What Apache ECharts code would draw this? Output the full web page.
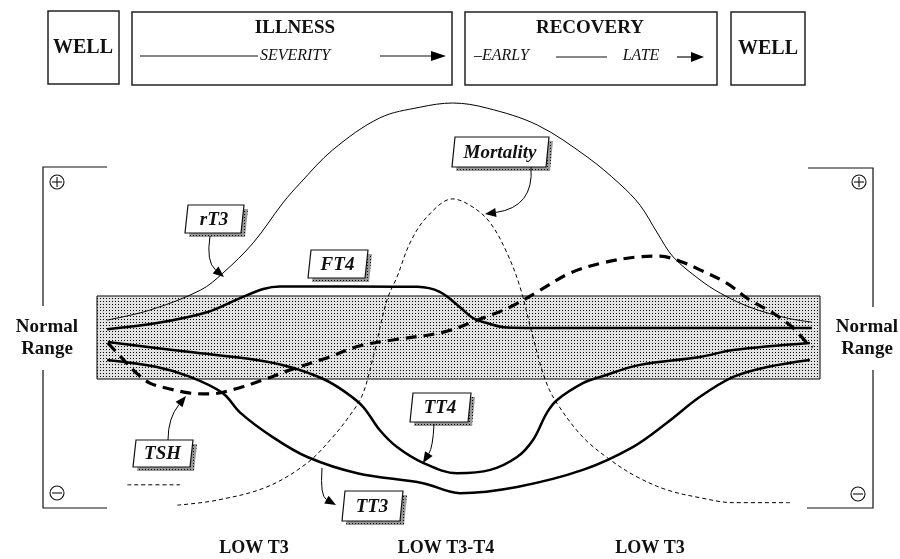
<!DOCTYPE html>
<html>
<head>
<meta charset="utf-8">
<script src="https://cdn.jsdelivr.net/npm/echarts@6/dist/echarts.min.js"></script>
<style>
  html, body { margin: 0; padding: 0; background: #fff; }
  #main { width: 900px; height: 559px; }
</style>
</head>
<body>
<div id="main"></div>
<script>
// time runs 0..100 across the normal-range box, level 0 = middle of normal range (+-1)
var normalRange = [-1, 1];
var timeSpan = [0, 100];

var rT3 = [[1.4,0.42],[7.3,0.66],[14.3,1.14],[17.4,1.55],[21.6,2.28],[25.7,3.24],[28.1,3.72],[32.6,4.52],[39.1,5.29],[44.7,5.55],[49.2,5.65],[53.9,5.53],[60.9,5.12],[67.8,4.35],[72.3,3.70],[75.1,3.19],[77.5,2.52],[79.7,1.94],[83.4,1.39],[86.2,1.07],[90.3,0.73],[95.4,0.47],[98.9,0.37]];
var FT4 = [[1.4,0.20],[8.3,0.35],[15.2,0.61],[19.8,0.95],[23.0,1.17],[25.3,1.23],[35.0,1.23],[44.3,1.22],[47.4,1.10],[50.2,0.73],[52.0,0.47],[53.9,0.35],[56.7,0.24],[60.3,0.23],[83.4,0.23],[98.9,0.23]];
var TT4 = [[1.5,-0.11],[12.9,-0.35],[22.1,-0.54],[26.7,-0.71],[31.3,-1.0],[34.3,-1.31],[36.8,-1.67],[39.1,-2.23],[41.5,-2.64],[45.1,-3.02],[49.8,-3.27],[54.4,-3.19],[58.1,-2.88],[60.3,-2.47],[62.2,-1.82],[63.6,-1.51],[67.2,-1.10],[69.6,-0.95],[75.1,-0.66],[83.4,-0.47],[88.0,-0.30],[98.6,-0.13]];
var TT3 = [[1.4,-0.54],[8.3,-0.71],[12.9,-0.95],[17.4,-1.34],[19.8,-1.81],[24.3,-2.40],[29.1,-2.88],[36.0,-3.27],[45.1,-3.51],[50.2,-3.75],[58.1,-3.60],[67.2,-3.19],[74.1,-2.64],[78.8,-2.06],[83.4,-1.43],[88.0,-0.95],[92.7,-0.71],[98.6,-0.54]];
var TSH = [[1.5,-0.13],[3.2,-0.45],[5.3,-0.83],[7.3,-1.10],[10.1,-1.24],[12.9,-1.34],[15.6,-1.36],[19.1,-1.24],[23.0,-1.02],[26.7,-0.78],[31.3,-0.52],[36.4,-0.20],[40.9,-0.06],[47.9,0.13],[52.6,0.42],[57.1,0.73],[60.9,1.10],[65.4,1.55],[70.0,1.80],[74.7,1.94],[77.9,1.96],[80.6,1.84],[83.4,1.63],[87.1,1.31],[90.3,0.90],[93.5,0.59],[96.3,0.23],[98.2,-0.13],[99.0,-0.23]];
var mortality = [[11.1,-4.04],[16.6,-3.92],[23.5,-3.60],[29.1,-3.02],[32.6,-2.40],[35.0,-1.87],[36.7,-1.39],[38.2,-0.47],[40.1,0.90],[41.5,1.46],[43.3,2.28],[45.6,2.90],[49.2,3.34],[52.0,3.14],[54.4,2.76],[56.7,2.04],[58.5,1.22],[60.3,0.01],[62.0,-1.02],[63.6,-1.58],[67.2,-2.40],[71.0,-2.95],[74.7,-3.36],[78.8,-3.67],[83.4,-3.86],[88.0,-3.98],[95.9,-3.98]];
var mortalityStub = [[4.2,-3.55],[11.5,-3.55]];

var phaseLabels = ['LOW T3', 'LOW T3-T4', 'LOW T3'];

var SERIF = '"Liberation Serif", "DejaVu Serif", serif';

function dotPattern(bg, dot) {
    var c = document.createElement('canvas');
    c.width = 3; c.height = 3;
    var ctx = c.getContext('2d');
    ctx.fillStyle = bg; ctx.fillRect(0, 0, 3, 3);
    ctx.fillStyle = dot; ctx.fillRect(1, 1, 1, 1);
    return { image: c, repeat: 'repeat' };
}
var boxFill = dotPattern('#e2e2e2', '#000000');
var shadowFill = dotPattern('#999999', '#000000');

var g = [];

function txt(x, y, s, size, weight, style, align, z) {
    g.push({ type: 'text', z: z || 10, style: { text: s, x: x, y: y, fill: '#111',
        fontFamily: SERIF, fontSize: size, fontWeight: weight || 'normal', fontStyle: style || 'normal',
        align: align || 'center', verticalAlign: 'middle' } });
}
function rect(x, y, w, h) {
    g.push({ type: 'rect', z: 5, shape: { x: x, y: y, width: w, height: h },
        style: { fill: '#fff', stroke: '#222', lineWidth: 1.5 } });
}
function line(pts, w) {
    g.push({ type: 'polyline', z: 5, shape: { points: pts }, style: { stroke: '#111', lineWidth: w || 1.2, fill: null } });
}
function head(x, y, ang, L, W) {
    var bx = x - L * Math.cos(ang), by = y - L * Math.sin(ang);
    var nx = -Math.sin(ang) * W, ny = Math.cos(ang) * W;
    g.push({ type: 'polygon', z: 12, shape: { points: [[x, y], [bx + nx, by + ny], [bx - nx, by - ny]] }, style: { fill: '#000' } });
    return [bx, by];
}
function arrow(x1, y1, cx, cy, x2, y2) {
    var b = head(x2, y2, Math.atan2(y2 - cy, x2 - cx), 11, 4.5);
    g.push({ type: 'bezierCurve', z: 12, shape: { x1: x1, y1: y1, cpx1: cx, cpy1: cy, x2: b[0], y2: b[1] },
        style: { stroke: '#000', lineWidth: 1, fill: null } });
}
function tag(x, y, w, h, s) {
    var sk = 3;
    g.push({ type: 'polygon', z: 11, shape: { points: [[x + sk + 4, y + 4], [x + w + sk + 4, y + 4], [x + w + 4, y + h + 4], [x + 4, y + h + 4]] },
        style: { fill: shadowFill } });
    g.push({ type: 'polygon', z: 11, shape: { points: [[x + sk, y], [x + w + sk, y], [x + w, y + h], [x, y + h]] },
        style: { fill: '#fff', stroke: '#111', lineWidth: 1.2 } });
    txt(x + w / 2 + 1, y + h / 2 + 1, s, 19, 'bold', 'italic', 'center', 13);
}
function sign(x, y, plus) {
    g.push({ type: 'circle', z: 5, shape: { cx: x, cy: y, r: 7 }, style: { fill: null, stroke: '#111', lineWidth: 1.1 } });
    line([[x - 5, y], [x + 5, y]], 1.1);
    if (plus) line([[x, y - 5], [x, y + 5]], 1.1);
}

// top phase boxes
rect(48, 11, 71, 73); txt(83, 48, 'WELL', 20, 'bold');
rect(132, 12, 320, 73); txt(295, 28, 'ILLNESS', 19, 'bold');
line([[140, 56], [258, 56]]); txt(295, 56, 'SEVERITY', 16, 'normal', 'italic');
line([[380, 56], [432, 56]]); head(446, 56, 0, 15, 5);
rect(465, 12, 252, 73); txt(590, 28, 'RECOVERY', 19, 'bold');
txt(474, 56, '–EARLY', 16, 'normal', 'italic', 'left');
line([[556, 57], [607, 57]]); txt(641, 56, 'LATE', 16, 'normal', 'italic');
line([[677, 57], [692, 57]]); head(704, 57, 0, 13, 5);
rect(731, 12, 74, 73); txt(768, 49, 'WELL', 20, 'bold');

// side brackets
line([[107, 167], [43, 167], [43, 306]]);
line([[43, 370], [43, 508], [107, 508]]);
line([[808, 168], [873, 168], [873, 307]]);
line([[873, 370], [873, 508], [807, 508]]);
sign(57, 182, true); sign(57, 493, false);
sign(859, 182, true); sign(858, 494, false);
txt(47, 327, 'Normal', 19, 'bold'); txt(47, 349, 'Range', 19, 'bold');
txt(867, 327, 'Normal', 19, 'bold'); txt(867, 349, 'Range', 19, 'bold');

// callouts
tag(185, 205, 56, 28, 'rT3'); arrow(210, 236, 206, 262, 224, 277);
tag(308, 250, 57, 28, 'FT4');
tag(452, 137, 94, 30, 'Mortality'); arrow(531, 167, 534, 207, 485, 214);
tag(133, 440, 57, 27, 'TSH'); arrow(168, 440, 168, 418, 186, 396);
tag(410, 393, 58, 29, 'TT4'); arrow(434, 424, 433, 447, 423, 463);
tag(342, 491, 58, 30, 'TT3'); arrow(322, 468, 320, 496, 336, 505);

// bottom phase names
txt(254, 548, phaseLabels[0], 18, 'bold');
txt(446, 548, phaseLabels[1], 18, 'bold');
txt(650, 548, phaseLabels[2], 18, 'bold');

function curve(name, data, width, dash) {
    return {
        name: name, type: 'line', data: data, z: 3, smooth: 0.35,
        showSymbol: false, silent: true,
        lineStyle: { color: '#000', width: width, type: dash || 'solid' }
    };
}

var chart = echarts.init(document.getElementById('main'));
chart.setOption({
    backgroundColor: '#fff',
    animation: false,
    grid: { left: 97, right: 80, top: 88.5, bottom: 14 },
    xAxis: { type: 'value', min: timeSpan[0], max: timeSpan[1], show: false },
    yAxis: { type: 'value', min: -5, max: 6, show: false },
    series: [
        {
            name: 'Normal range', type: 'line', z: 1, data: [], silent: true,
            markArea: {
                silent: true,
                itemStyle: { color: boxFill, borderColor: '#000', borderWidth: 1 },
                data: [[{ xAxis: timeSpan[0], yAxis: normalRange[0] }, { xAxis: timeSpan[1], yAxis: normalRange[1] }]]
            }
        },
        curve('rT3', rT3, 1),
        curve('FT4', FT4, 2.5),
        curve('TT4', TT4, 2.5),
        curve('TT3', TT3, 2.5),
        curve('TSH', TSH, 3.2, [11, 7]),
        curve('Mortality', mortality, 1, [4, 3]),
        curve('Mortality stub', mortalityStub, 1, [4, 3])
    ],
    graphic: g
});
</script>
</body>
</html>
